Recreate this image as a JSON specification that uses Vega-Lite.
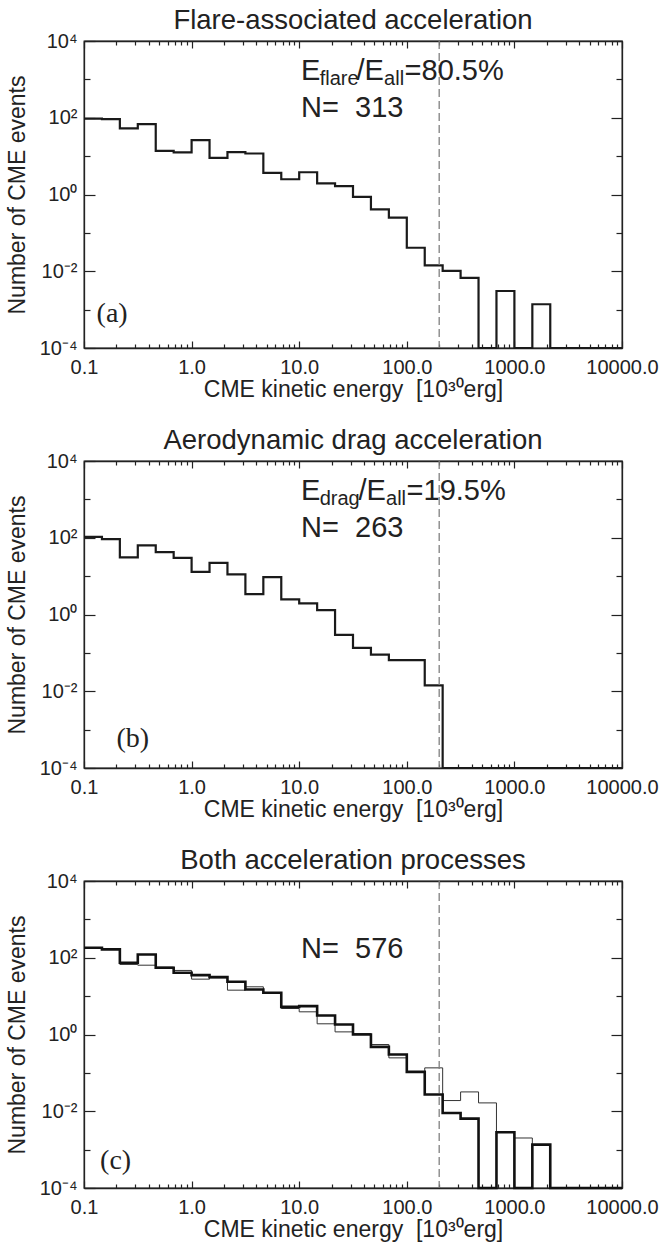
{
  "$schema": "https://vega.github.io/schema/vega-lite/v6.json",
  "background": "white",
  "padding": {"left": 5, "top": 5, "right": 0, "bottom": 0},
  "bounds": "flush",
  "spacing": 113,
  "config": {
    "font": "Liberation Sans",
    "view": {"stroke": "#222", "strokeWidth": 1.3},
    "axis": {"grid": false, "domainColor": "#222", "domainWidth": 1.3, "tickColor": "#222", "tickWidth": 1.2, "labelFont": "Liberation Sans", "labelFontSize": 20, "labelColor": "#222", "titleFont": "Liberation Sans", "titleFontSize": 23, "titleFontWeight": "normal", "titleColor": "#222", "labelOverlap": false, "labelFlush": false, "labelBound": false},
    "title": {"font": "Liberation Sans", "fontSize": 27.5, "fontWeight": "normal", "color": "#222", "offset": -3, "anchor": "middle"}
  },
  "datasets": {
    "p1": [
      {"e": 0.1, "n": 95}, {"e": 0.1468, "n": 92}, {"e": 0.2154, "n": 53}, {"e": 0.3162, "n": 68}, {"e": 0.4642, "n": 13.7}, {"e": 0.6813, "n": 12.5},
      {"e": 1, "n": 26}, {"e": 1.468, "n": 9.0}, {"e": 2.154, "n": 12.7}, {"e": 3.162, "n": 11.7}, {"e": 4.642, "n": 3.66}, {"e": 6.813, "n": 2.5},
      {"e": 10, "n": 3.8}, {"e": 14.68, "n": 1.94}, {"e": 21.54, "n": 1.65}, {"e": 31.62, "n": 0.87}, {"e": 46.42, "n": 0.41}, {"e": 68.13, "n": 0.25},
      {"e": 100, "n": 0.041}, {"e": 146.8, "n": 0.0143}, {"e": 215.4, "n": 0.0102}, {"e": 316.2, "n": 0.0067}, {"e": 464.2, "n": 0.0001}, {"e": 681.3, "n": 0.00306},
      {"e": 1000, "n": 0.0001}, {"e": 1468, "n": 0.00138}, {"e": 2154, "n": 0.0001}, {"e": 3162, "n": 0.0001}, {"e": 4642, "n": 0.0001}, {"e": 6813, "n": 0.0001},
      {"e": 10000, "n": 0.0001}
    ],
    "p2": [
      {"e": 0.1, "n": 106}, {"e": 0.1468, "n": 92}, {"e": 0.2154, "n": 30.7}, {"e": 0.3162, "n": 63}, {"e": 0.4642, "n": 42}, {"e": 0.6813, "n": 30},
      {"e": 1, "n": 12.9}, {"e": 1.468, "n": 22.2}, {"e": 2.154, "n": 11.1}, {"e": 3.162, "n": 3.39}, {"e": 4.642, "n": 9.4}, {"e": 6.813, "n": 2.47},
      {"e": 10, "n": 1.94}, {"e": 14.68, "n": 1.3}, {"e": 21.54, "n": 0.295}, {"e": 31.62, "n": 0.135}, {"e": 46.42, "n": 0.09}, {"e": 68.13, "n": 0.065},
      {"e": 100, "n": 0.065}, {"e": 146.8, "n": 0.0143}, {"e": 215.4, "n": 0.0001}, {"e": 316.2, "n": 0.0001}, {"e": 464.2, "n": 0.0001}, {"e": 681.3, "n": 0.0001},
      {"e": 1000, "n": 0.0001}, {"e": 1468, "n": 0.0001}, {"e": 2154, "n": 0.0001}, {"e": 3162, "n": 0.0001}, {"e": 4642, "n": 0.0001}, {"e": 6813, "n": 0.0001},
      {"e": 10000, "n": 0.0001}
    ],
    "p3a": [
      {"e": 0.1, "n": 182}, {"e": 0.1468, "n": 165}, {"e": 0.2154, "n": 74}, {"e": 0.3162, "n": 122}, {"e": 0.4642, "n": 55}, {"e": 0.6813, "n": 40.6},
      {"e": 1, "n": 35.3}, {"e": 1.468, "n": 31.3}, {"e": 2.154, "n": 23.6}, {"e": 3.162, "n": 14.9}, {"e": 4.642, "n": 12.2}, {"e": 6.813, "n": 5.26},
      {"e": 10, "n": 5.5}, {"e": 14.68, "n": 3.13}, {"e": 21.54, "n": 1.82}, {"e": 31.62, "n": 1.0}, {"e": 46.42, "n": 0.476}, {"e": 68.13, "n": 0.3},
      {"e": 100, "n": 0.106}, {"e": 146.8, "n": 0.0272}, {"e": 215.4, "n": 0.00904}, {"e": 316.2, "n": 0.00643}, {"e": 464.2, "n": 0.0001}, {"e": 681.3, "n": 0.00283},
      {"e": 1000, "n": 0.0001}, {"e": 1468, "n": 0.00135}, {"e": 2154, "n": 0.0001}, {"e": 3162, "n": 0.0001}, {"e": 4642, "n": 0.0001}, {"e": 6813, "n": 0.0001},
      {"e": 10000, "n": 0.0001}
    ],
    "p3b": [
      {"e": 0.1, "n": 175}, {"e": 0.1468, "n": 165}, {"e": 0.2154, "n": 67}, {"e": 0.3162, "n": 64}, {"e": 0.4642, "n": 57}, {"e": 0.6813, "n": 46.7},
      {"e": 1, "n": 27.7}, {"e": 1.468, "n": 30}, {"e": 2.154, "n": 14.3}, {"e": 3.162, "n": 17.5}, {"e": 4.642, "n": 12.2}, {"e": 6.813, "n": 4.76},
      {"e": 10, "n": 3.9}, {"e": 14.68, "n": 1.9}, {"e": 21.54, "n": 1.17}, {"e": 31.62, "n": 1.06}, {"e": 46.42, "n": 0.548}, {"e": 68.13, "n": 0.246},
      {"e": 100, "n": 0.106}, {"e": 146.8, "n": 0.135}, {"e": 215.4, "n": 0.019}, {"e": 316.2, "n": 0.0319}, {"e": 464.2, "n": 0.0165}, {"e": 681.3, "n": 0.00283},
      {"e": 1000, "n": 0.00201}, {"e": 1468, "n": 0.00135}, {"e": 2154, "n": 0.0001}, {"e": 3162, "n": 0.0001}, {"e": 4642, "n": 0.0001}, {"e": 6813, "n": 0.0001},
      {"e": 10000, "n": 0.0001}
    ],
    "a1": [{"x": 10.42, "y": 960, "t": "E"}, {"x": 34.1, "y": 960, "t": "/E"}, {"x": 95.4, "y": 960, "t": "=80.5%"}, {"x": 10.42, "y": 106, "t": "N=\u00a0\u00a0313"}],
    "s1": [{"x": 15.5, "y": 960, "t": "flare"}, {"x": 61.5, "y": 960, "t": "all"}],
    "a2": [{"x": 10.42, "y": 960, "t": "E"}, {"x": 35.6, "y": 960, "t": "/E"}, {"x": 99.6, "y": 960, "t": "=19.5%"}, {"x": 10.42, "y": 106, "t": "N=\u00a0\u00a0263"}],
    "s2": [{"x": 15.5, "y": 960, "t": "drag"}, {"x": 64.1, "y": 960, "t": "all"}],
    "a3": [{"x": 10.42, "y": 100, "t": "N=\u00a0\u00a0576"}],
    "l1": [{"x": 0.131, "y": 0.00048, "t": "(a)"}],
    "l2": [{"x": 0.2, "y": 0.00035, "t": "(b)"}],
    "l3": [{"x": 0.141, "y": 0.00031, "t": "(c)"}],
    "cut": [{"v": 200}]
  },
  "vconcat": [
    {
      "title": "Flare-associated acceleration",
      "width": 538, "height": 307,
      "resolve": {"axis": {"x": "independent", "y": "independent"}},
      "layer": [
        {"data": {"name": "p1"}, "mark": {"type": "line", "interpolate": "step-after", "color": "#1a1a1a", "strokeWidth": 2.2},
         "encoding": {
           "x": {"field": "e", "type": "quantitative", "scale": {"type": "log", "domain": [0.1, 10000], "nice": false},
                 "axis": {"orient": "bottom", "title": "CME kinetic energy\u00a0\u00a0[10³⁰erg]", "titlePadding": -2, "labelPadding": 16,
                          "values": [0.1,0.2,0.3,0.4,0.5,0.6,0.7,0.8,0.9,1,2,3,4,5,6,7,8,9,10,20,30,40,50,60,70,80,90,100,200,300,400,500,600,700,800,900,1000,2000,3000,4000,5000,6000,7000,8000,9000,10000],
                          "labelExpr": "(datum.value == 0.1 || datum.value == 1 || datum.value == 10 || datum.value == 100 || datum.value == 1000 || datum.value == 10000) ? format(datum.value, '.1f') : ''",
                          "tickSize": {"condition": {"test": "datum.value == 0.1 || datum.value == 1 || datum.value == 10 || datum.value == 100 || datum.value == 1000 || datum.value == 10000", "value": -7}, "value": -4}}},
           "y": {"field": "n", "type": "quantitative", "scale": {"type": "log", "domain": [0.0001, 10000], "nice": false},
                 "axis": {"orient": "left", "title": "Number of CME events", "titlePadding": 10, "labelPadding": 18,
                          "values": [0.0001, 0.001, 0.01, 0.1, 1, 10, 100, 1000, 10000],
                          "labelExpr": "datum.value == 10000 ? '10⁴' : datum.value == 100 ? '10²' : datum.value == 1 ? '10⁰' : datum.value == 0.01 ? '10⁻²' : datum.value == 0.0001 ? '10⁻⁴' : ''",
                          "tickSize": {"condition": {"test": "datum.value == 10000 || datum.value == 100 || datum.value == 1 || datum.value == 0.01 || datum.value == 0.0001", "value": -11}, "value": -6}}}
         }},
        {"data": {"name": "cut"}, "mark": {"type": "rule", "color": "#808080", "strokeDash": [8, 4], "strokeWidth": 1.3},
         "encoding": {"x": {"field": "v", "type": "quantitative", "scale": {"type": "log", "domain": [0.1, 10000], "nice": false}, "axis": null}}},
        {"data": {"name": "a1"}, "mark": {"type": "text", "align": "left", "baseline": "alphabetic", "fontSize": 29, "color": "#222"},
         "encoding": {"x": {"field": "x", "type": "quantitative", "scale": {"type": "log", "domain": [0.1, 10000], "nice": false}, "axis": null},
                      "y": {"field": "y", "type": "quantitative", "scale": {"type": "log", "domain": [0.0001, 10000], "nice": false}, "axis": null},
                      "text": {"field": "t"}}},
        {"data": {"name": "s1"}, "mark": {"type": "text", "align": "left", "baseline": "alphabetic", "fontSize": 20, "dy": 5, "color": "#222"},
         "encoding": {"x": {"field": "x", "type": "quantitative", "scale": {"type": "log", "domain": [0.1, 10000], "nice": false}, "axis": null},
                      "y": {"field": "y", "type": "quantitative", "scale": {"type": "log", "domain": [0.0001, 10000], "nice": false}, "axis": null},
                      "text": {"field": "t"}}},
        {"data": {"name": "l1"}, "mark": {"type": "text", "align": "left", "baseline": "alphabetic", "fontSize": 28, "font": "Liberation Serif", "color": "#222"},
         "encoding": {"x": {"field": "x", "type": "quantitative", "scale": {"type": "log", "domain": [0.1, 10000], "nice": false}, "axis": null},
                      "y": {"field": "y", "type": "quantitative", "scale": {"type": "log", "domain": [0.0001, 10000], "nice": false}, "axis": null},
                      "text": {"field": "t"}}},
        {"data": {"name": "p1"}, "mark": {"type": "line", "opacity": 0},
         "encoding": {
           "x": {"field": "e", "type": "quantitative", "scale": {"type": "log", "domain": [0.1, 10000], "nice": false},
                 "axis": {"orient": "top", "title": null, "labels": false,
                          "values": [0.1,0.2,0.3,0.4,0.5,0.6,0.7,0.8,0.9,1,2,3,4,5,6,7,8,9,10,20,30,40,50,60,70,80,90,100,200,300,400,500,600,700,800,900,1000,2000,3000,4000,5000,6000,7000,8000,9000,10000],
                          "tickSize": {"condition": {"test": "datum.value == 0.1 || datum.value == 1 || datum.value == 10 || datum.value == 100 || datum.value == 1000 || datum.value == 10000", "value": -7}, "value": -4}}},
           "y": {"field": "n", "type": "quantitative", "scale": {"type": "log", "domain": [0.0001, 10000], "nice": false},
                 "axis": {"orient": "right", "title": null, "labels": false,
                          "values": [0.0001, 0.001, 0.01, 0.1, 1, 10, 100, 1000, 10000],
                          "tickSize": {"condition": {"test": "datum.value == 10000 || datum.value == 100 || datum.value == 1 || datum.value == 0.01 || datum.value == 0.0001", "value": -11}, "value": -6}}}
         }}
      ]
    },
    {
      "title": "Aerodynamic drag acceleration",
      "width": 538, "height": 307,
      "resolve": {"axis": {"x": "independent", "y": "independent"}},
      "layer": [
        {"data": {"name": "p2"}, "mark": {"type": "line", "interpolate": "step-after", "color": "#1a1a1a", "strokeWidth": 2.2},
         "encoding": {
           "x": {"field": "e", "type": "quantitative", "scale": {"type": "log", "domain": [0.1, 10000], "nice": false},
                 "axis": {"orient": "bottom", "title": "CME kinetic energy\u00a0\u00a0[10³⁰erg]", "titlePadding": -2, "labelPadding": 16,
                          "values": [0.1,0.2,0.3,0.4,0.5,0.6,0.7,0.8,0.9,1,2,3,4,5,6,7,8,9,10,20,30,40,50,60,70,80,90,100,200,300,400,500,600,700,800,900,1000,2000,3000,4000,5000,6000,7000,8000,9000,10000],
                          "labelExpr": "(datum.value == 0.1 || datum.value == 1 || datum.value == 10 || datum.value == 100 || datum.value == 1000 || datum.value == 10000) ? format(datum.value, '.1f') : ''",
                          "tickSize": {"condition": {"test": "datum.value == 0.1 || datum.value == 1 || datum.value == 10 || datum.value == 100 || datum.value == 1000 || datum.value == 10000", "value": -7}, "value": -4}}},
           "y": {"field": "n", "type": "quantitative", "scale": {"type": "log", "domain": [0.0001, 10000], "nice": false},
                 "axis": {"orient": "left", "title": "Number of CME events", "titlePadding": 10, "labelPadding": 18,
                          "values": [0.0001, 0.001, 0.01, 0.1, 1, 10, 100, 1000, 10000],
                          "labelExpr": "datum.value == 10000 ? '10⁴' : datum.value == 100 ? '10²' : datum.value == 1 ? '10⁰' : datum.value == 0.01 ? '10⁻²' : datum.value == 0.0001 ? '10⁻⁴' : ''",
                          "tickSize": {"condition": {"test": "datum.value == 10000 || datum.value == 100 || datum.value == 1 || datum.value == 0.01 || datum.value == 0.0001", "value": -11}, "value": -6}}}
         }},
        {"data": {"name": "cut"}, "mark": {"type": "rule", "color": "#808080", "strokeDash": [8, 4], "strokeWidth": 1.3},
         "encoding": {"x": {"field": "v", "type": "quantitative", "scale": {"type": "log", "domain": [0.1, 10000], "nice": false}, "axis": null}}},
        {"data": {"name": "a2"}, "mark": {"type": "text", "align": "left", "baseline": "alphabetic", "fontSize": 29, "color": "#222"},
         "encoding": {"x": {"field": "x", "type": "quantitative", "scale": {"type": "log", "domain": [0.1, 10000], "nice": false}, "axis": null},
                      "y": {"field": "y", "type": "quantitative", "scale": {"type": "log", "domain": [0.0001, 10000], "nice": false}, "axis": null},
                      "text": {"field": "t"}}},
        {"data": {"name": "s2"}, "mark": {"type": "text", "align": "left", "baseline": "alphabetic", "fontSize": 20, "dy": 5, "color": "#222"},
         "encoding": {"x": {"field": "x", "type": "quantitative", "scale": {"type": "log", "domain": [0.1, 10000], "nice": false}, "axis": null},
                      "y": {"field": "y", "type": "quantitative", "scale": {"type": "log", "domain": [0.0001, 10000], "nice": false}, "axis": null},
                      "text": {"field": "t"}}},
        {"data": {"name": "l2"}, "mark": {"type": "text", "align": "left", "baseline": "alphabetic", "fontSize": 28, "font": "Liberation Serif", "color": "#222"},
         "encoding": {"x": {"field": "x", "type": "quantitative", "scale": {"type": "log", "domain": [0.1, 10000], "nice": false}, "axis": null},
                      "y": {"field": "y", "type": "quantitative", "scale": {"type": "log", "domain": [0.0001, 10000], "nice": false}, "axis": null},
                      "text": {"field": "t"}}},
        {"data": {"name": "p2"}, "mark": {"type": "line", "opacity": 0},
         "encoding": {
           "x": {"field": "e", "type": "quantitative", "scale": {"type": "log", "domain": [0.1, 10000], "nice": false},
                 "axis": {"orient": "top", "title": null, "labels": false,
                          "values": [0.1,0.2,0.3,0.4,0.5,0.6,0.7,0.8,0.9,1,2,3,4,5,6,7,8,9,10,20,30,40,50,60,70,80,90,100,200,300,400,500,600,700,800,900,1000,2000,3000,4000,5000,6000,7000,8000,9000,10000],
                          "tickSize": {"condition": {"test": "datum.value == 0.1 || datum.value == 1 || datum.value == 10 || datum.value == 100 || datum.value == 1000 || datum.value == 10000", "value": -7}, "value": -4}}},
           "y": {"field": "n", "type": "quantitative", "scale": {"type": "log", "domain": [0.0001, 10000], "nice": false},
                 "axis": {"orient": "right", "title": null, "labels": false,
                          "values": [0.0001, 0.001, 0.01, 0.1, 1, 10, 100, 1000, 10000],
                          "tickSize": {"condition": {"test": "datum.value == 10000 || datum.value == 100 || datum.value == 1 || datum.value == 0.01 || datum.value == 0.0001", "value": -11}, "value": -6}}}
         }}
      ]
    },
    {
      "title": "Both acceleration processes",
      "width": 538, "height": 307,
      "resolve": {"axis": {"x": "independent", "y": "independent"}},
      "layer": [
        {"data": {"name": "p3b"}, "mark": {"type": "line", "interpolate": "step-after", "color": "#333333", "strokeWidth": 1},
         "encoding": {
           "x": {"field": "e", "type": "quantitative", "scale": {"type": "log", "domain": [0.1, 10000], "nice": false},
                 "axis": {"orient": "bottom", "title": "CME kinetic energy\u00a0\u00a0[10³⁰erg]", "titlePadding": -2, "labelPadding": 16,
                          "values": [0.1,0.2,0.3,0.4,0.5,0.6,0.7,0.8,0.9,1,2,3,4,5,6,7,8,9,10,20,30,40,50,60,70,80,90,100,200,300,400,500,600,700,800,900,1000,2000,3000,4000,5000,6000,7000,8000,9000,10000],
                          "labelExpr": "(datum.value == 0.1 || datum.value == 1 || datum.value == 10 || datum.value == 100 || datum.value == 1000 || datum.value == 10000) ? format(datum.value, '.1f') : ''",
                          "tickSize": {"condition": {"test": "datum.value == 0.1 || datum.value == 1 || datum.value == 10 || datum.value == 100 || datum.value == 1000 || datum.value == 10000", "value": -7}, "value": -4}}},
           "y": {"field": "n", "type": "quantitative", "scale": {"type": "log", "domain": [0.0001, 10000], "nice": false},
                 "axis": {"orient": "left", "title": "Number of CME events", "titlePadding": 10, "labelPadding": 18,
                          "values": [0.0001, 0.001, 0.01, 0.1, 1, 10, 100, 1000, 10000],
                          "labelExpr": "datum.value == 10000 ? '10⁴' : datum.value == 100 ? '10²' : datum.value == 1 ? '10⁰' : datum.value == 0.01 ? '10⁻²' : datum.value == 0.0001 ? '10⁻⁴' : ''",
                          "tickSize": {"condition": {"test": "datum.value == 10000 || datum.value == 100 || datum.value == 1 || datum.value == 0.01 || datum.value == 0.0001", "value": -11}, "value": -6}}}
         }},
        {"data": {"name": "p3a"}, "mark": {"type": "line", "interpolate": "step-after", "color": "#111111", "strokeWidth": 2.6},
         "encoding": {"x": {"field": "e", "type": "quantitative", "scale": {"type": "log", "domain": [0.1, 10000], "nice": false}, "axis": null},
                      "y": {"field": "n", "type": "quantitative", "scale": {"type": "log", "domain": [0.0001, 10000], "nice": false}, "axis": null}}},
        {"data": {"name": "cut"}, "mark": {"type": "rule", "color": "#808080", "strokeDash": [8, 4], "strokeWidth": 1.3},
         "encoding": {"x": {"field": "v", "type": "quantitative", "scale": {"type": "log", "domain": [0.1, 10000], "nice": false}, "axis": null}}},
        {"data": {"name": "a3"}, "mark": {"type": "text", "align": "left", "baseline": "alphabetic", "fontSize": 29, "color": "#222"},
         "encoding": {"x": {"field": "x", "type": "quantitative", "scale": {"type": "log", "domain": [0.1, 10000], "nice": false}, "axis": null},
                      "y": {"field": "y", "type": "quantitative", "scale": {"type": "log", "domain": [0.0001, 10000], "nice": false}, "axis": null},
                      "text": {"field": "t"}}},
        {"data": {"name": "l3"}, "mark": {"type": "text", "align": "left", "baseline": "alphabetic", "fontSize": 28, "font": "Liberation Serif", "color": "#222"},
         "encoding": {"x": {"field": "x", "type": "quantitative", "scale": {"type": "log", "domain": [0.1, 10000], "nice": false}, "axis": null},
                      "y": {"field": "y", "type": "quantitative", "scale": {"type": "log", "domain": [0.0001, 10000], "nice": false}, "axis": null},
                      "text": {"field": "t"}}},
        {"data": {"name": "p3a"}, "mark": {"type": "line", "opacity": 0},
         "encoding": {
           "x": {"field": "e", "type": "quantitative", "scale": {"type": "log", "domain": [0.1, 10000], "nice": false},
                 "axis": {"orient": "top", "title": null, "labels": false,
                          "values": [0.1,0.2,0.3,0.4,0.5,0.6,0.7,0.8,0.9,1,2,3,4,5,6,7,8,9,10,20,30,40,50,60,70,80,90,100,200,300,400,500,600,700,800,900,1000,2000,3000,4000,5000,6000,7000,8000,9000,10000],
                          "tickSize": {"condition": {"test": "datum.value == 0.1 || datum.value == 1 || datum.value == 10 || datum.value == 100 || datum.value == 1000 || datum.value == 10000", "value": -7}, "value": -4}}},
           "y": {"field": "n", "type": "quantitative", "scale": {"type": "log", "domain": [0.0001, 10000], "nice": false},
                 "axis": {"orient": "right", "title": null, "labels": false,
                          "values": [0.0001, 0.001, 0.01, 0.1, 1, 10, 100, 1000, 10000],
                          "tickSize": {"condition": {"test": "datum.value == 10000 || datum.value == 100 || datum.value == 1 || datum.value == 0.01 || datum.value == 0.0001", "value": -11}, "value": -6}}}
         }}
      ]
    }
  ]
}
